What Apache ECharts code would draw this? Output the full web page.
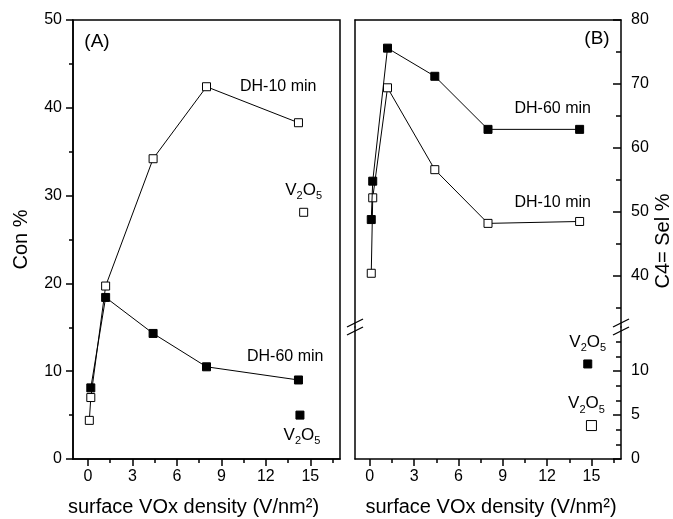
<!DOCTYPE html>
<html>
<head>
<meta charset="utf-8">
<script src="https://cdn.jsdelivr.net/npm/echarts@6/dist/echarts.min.js"></script>
<style>
  html, body { margin: 0; padding: 0; background: #fff; }
  #chart { width: 673px; height: 519px; }
</style>
</head>
<body>
<div id="chart"></div>
<script>
// Surface VOx density of each supported catalyst (V/nm²)
const density = [0.1, 0.2, 1.2, 4.4, 8.0, 14.2];
// Conversion (%) after 10 and 60 min of dehydrogenation
const conv10 = [4.4, 7.0, 19.7, 34.2, 42.4, 38.3];
const conv60 = [null, 8.1, 18.4, 14.3, 10.5, 9.0];
// C4= selectivity (%) after 10 and 60 min
const sel10 = [40.4, 52.2, 69.4, 56.6, 48.2, 48.5];
const sel60 = [48.8, 54.8, 75.6, 71.2, 62.9, 62.9];
// Bulk V2O5 points: [density position, value]
const v2o5Conv10 = [14.55, 28.1];
const v2o5Conv60 = [14.3, 5.0];
const v2o5Sel60 = [14.75, 10.8];
const v2o5Sel10 = [15.0, 3.8];
// Tick values
const xMajor = [0, 3, 6, 9, 12, 15];
const xMinor = [1.5, 4.5, 7.5, 10.5, 13.5, 16.5];
const selMajorHigh = [40, 50, 60, 70, 80];
const selMinorHigh = [35, 45, 55, 65, 75];
const selMajorLow = [0, 5, 10];
const selMinorLow = [1.667, 3.333, 6.667, 8.333, 11.667, 13.333];

const FONT = 'Liberation Sans';
const BLACK = '#000';
const AXW = 1.5;

// Panel geometry
const gA = { left: 73, top: 20, width: 267, height: 439 };
const gB = { left: 355, width: 266, top: 20, split: 327, bottom: 459 };
const rectA = { left: gA.left, top: gA.top, width: gA.width, height: gA.height, outerBoundsMode: 'none', containLabel: false };
const rectBHigh = { left: gB.left, top: gB.top, width: gB.width, height: gB.split - gB.top, outerBoundsMode: 'none', containLabel: false };
const rectBLow = { left: gB.left, top: gB.split, width: gB.width, height: gB.bottom - gB.split, outerBoundsMode: 'none', containLabel: false };

const chart = echarts.init(document.getElementById('chart'), null, { renderer: 'canvas' });

function pairs(xs, ys) {
  return xs.map((x, i) => [x, ys[i]]).filter(p => p[1] != null);
}
function labelAt(data, x, text, offset) {
  const i = data.findIndex(p => p[0] === x);
  data[i] = {
    value: data[i],
    label: {
      show: true, formatter: text, position: 'right', offset: offset,
      fontFamily: FONT, fontSize: 16, color: BLACK
    }
  };
  return data;
}
const v2o5Rich = {
  m: { fontFamily: FONT, fontSize: 17, color: BLACK, lineHeight: 20, verticalAlign: 'top' },
  s: { fontFamily: FONT, fontSize: 11, color: BLACK, lineHeight: 10, verticalAlign: 'bottom' }
};
function v2o5Label(position, offset) {
  return {
    show: true, position: position, distance: 4, offset: offset || [0, 0],
    color: BLACK, opacity: 1,
    formatter: '{m|V}{s|2}{m|O}{s|5}', rich: v2o5Rich
  };
}

const openStyle = { color: '#fff', borderColor: BLACK, borderWidth: 1, opacity: 1 };
const fillStyle = { color: BLACK, borderColor: BLACK, borderWidth: 1, opacity: 1 };
const lineStyle = { color: BLACK, width: 1 };

function lineSeries(xi, yi, data, filled) {
  return {
    type: 'line', xAxisIndex: xi, yAxisIndex: yi, data: data,
    symbol: 'rect', symbolSize: 8, showSymbol: true,
    itemStyle: filled ? fillStyle : openStyle, lineStyle: lineStyle,
    emphasis: { disabled: true }, animation: false, z: filled ? 3 : 2
  };
}
function pointSeries(xi, yi, pt, filled, size, label) {
  return {
    type: 'scatter', xAxisIndex: xi, yAxisIndex: yi,
    data: [{ value: pt, label: label }],
    symbol: 'rect', symbolSize: size,
    itemStyle: filled ? fillStyle : openStyle,
    emphasis: { disabled: true }, animation: false
  };
}

const tickLabel = { fontFamily: FONT, fontSize: 16, color: BLACK };
const axisLine = { show: true, onZero: false, lineStyle: { color: BLACK, width: AXW } };
const noLine = { show: false, onZero: false };
const hidden = { show: false };

function xMain(gi, side) {
  return {
    type: 'value', gridIndex: gi, position: 'bottom', min: -1, max: 17,
    axisLine: axisLine,
    axisTick: { show: true, inside: false, length: 7, customValues: xMajor, lineStyle: { color: BLACK, width: AXW } },
    axisLabel: { show: true, customValues: xMajor, margin: 10, ...tickLabel },
    splitLine: hidden,
    name: 'surface VOx density (V/nm²)',
    nameLocation: 'middle', nameGap: 38,
    nameTextStyle: { fontFamily: FONT, fontSize: 20, color: BLACK, padding: side === 'A' ? [0, 26, 0, 0] : [0, 0, 0, 6] }
  };
}
function xMinorAxis(gi) {
  return {
    type: 'value', gridIndex: gi, position: 'bottom', min: -1, max: 17,
    axisLine: noLine,
    axisTick: { show: true, length: 4, customValues: xMinor, lineStyle: { color: BLACK, width: AXW } },
    axisLabel: hidden, splitLine: hidden
  };
}
function hiddenAxis(gi, min, max) {
  return {
    type: 'value', gridIndex: gi, min: min, max: max,
    axisLine: noLine, axisTick: hidden, axisLabel: hidden, splitLine: hidden
  };
}
function lineOnlyY(gi, min, max) {
  return {
    type: 'value', gridIndex: gi, position: 'left', min: min, max: max,
    axisLine: axisLine, axisTick: hidden, axisLabel: hidden, splitLine: hidden
  };
}
function rightMajor(gi, min, max, major) {
  return {
    type: 'value', gridIndex: gi, position: 'right', min: min, max: max,
    axisLine: axisLine,
    axisTick: { show: true, inside: true, length: 8, customValues: major, lineStyle: { color: BLACK, width: AXW } },
    axisLabel: { show: true, customValues: major, margin: 10, ...tickLabel },
    splitLine: hidden
  };
}
function rightMinor(gi, min, max, minor) {
  return {
    type: 'value', gridIndex: gi, position: 'right', min: min, max: max,
    axisLine: noLine,
    axisTick: { show: true, inside: true, length: 5, customValues: minor, lineStyle: { color: BLACK, width: AXW } },
    axisLabel: hidden, splitLine: hidden
  };
}

// Break marks drawn across both vertical axes of panel B
function breakMark(cx, cy) {
  return [-4, 4].map(dy => ({
    type: 'line', z: 100,
    shape: { x1: cx - 8, y1: cy + dy + 4, x2: cx + 8, y2: cy + dy - 4 },
    style: { stroke: BLACK, lineWidth: 1.3 }
  }));
}

const option = {
  backgroundColor: '#fff',
  animation: false,
  grid: [
    { ...rectA, show: true, borderColor: BLACK, borderWidth: AXW, backgroundColor: 'transparent' }, // 0: panel A
    { ...rectBHigh },  // 1: panel B, selectivity range 32–80
    { ...rectBLow },   // 2: panel B, range 0–15
    { ...rectA },      // 3: minor ticks, panel A
    { ...rectBHigh },  // 4: minor ticks, panel B upper
    { ...rectBLow }    // 5: minor ticks, panel B lower
  ],
  xAxis: [
    xMain(0, 'A'),
    { type: 'value', gridIndex: 1, position: 'top', min: -1, max: 17, axisLine: axisLine, axisTick: hidden, axisLabel: hidden, splitLine: hidden },
    xMain(2, 'B'),
    xMinorAxis(3),
    hiddenAxis(4, -1, 17),
    xMinorAxis(5)
  ],
  yAxis: [
    {
      type: 'value', gridIndex: 0, position: 'left', min: 0, max: 50, interval: 10,
      axisLine: axisLine,
      axisTick: { show: true, inside: false, length: 7, lineStyle: { color: BLACK, width: AXW } },
      minorTick: { show: true, splitNumber: 2, length: 4, lineStyle: { color: BLACK, width: AXW } },
      axisLabel: { show: true, margin: 11, ...tickLabel },
      splitLine: hidden,
      name: 'Con %', nameLocation: 'middle', nameGap: 42,
      nameTextStyle: { fontFamily: FONT, fontSize: 20, color: BLACK }
    },
    lineOnlyY(1, 32, 80),
    rightMajor(1, 32, 80, selMajorHigh),
    lineOnlyY(2, 0, 15),
    rightMajor(2, 0, 15, selMajorLow),
    hiddenAxis(3, 0, 50),
    rightMinor(4, 32, 80, selMinorHigh),
    rightMinor(5, 0, 15, selMinorLow)
  ],
  series: [
    lineSeries(0, 0, labelAt(pairs(density, conv10), 8.0, 'DH-10 min', [24, 0]), false),
    lineSeries(0, 0, labelAt(pairs(density, conv60), 8.0, 'DH-60 min', [31, -10]), true),
    pointSeries(0, 0, v2o5Conv10, false, 8, v2o5Label('top', [0, -2])),
    pointSeries(0, 0, v2o5Conv60, true, 8, v2o5Label('bottom', [2, 3])),
    lineSeries(1, 2, labelAt(pairs(density, sel10), 8.0, 'DH-10 min', [17, -21]), false),
    lineSeries(1, 2, labelAt(pairs(density, sel60), 8.0, 'DH-60 min', [17, -21]), true),
    pointSeries(2, 4, v2o5Sel60, true, 8, v2o5Label('top', [0, -2])),
    pointSeries(2, 4, v2o5Sel10, false, 10, v2o5Label('top', [-5, -1]))
  ],
  graphic: [
    { type: 'text', x: 97, y: 42, style: { text: '(A)', font: '19px "Liberation Sans"', fill: BLACK, textAlign: 'center', textVerticalAlign: 'middle' } },
    { type: 'text', x: 597, y: 39, style: { text: '(B)', font: '19px "Liberation Sans"', fill: BLACK, textAlign: 'center', textVerticalAlign: 'middle' } },
    { type: 'text', x: 663, y: 241, rotation: Math.PI / 2, style: { text: 'C4= Sel %', font: '20px "Liberation Sans"', fill: BLACK, textAlign: 'center', textVerticalAlign: 'middle' } },
    ...breakMark(gB.left, gB.split),
    ...breakMark(gB.left + gB.width, gB.split)
  ]
};
chart.setOption(option);
</script>
</body>
</html>
